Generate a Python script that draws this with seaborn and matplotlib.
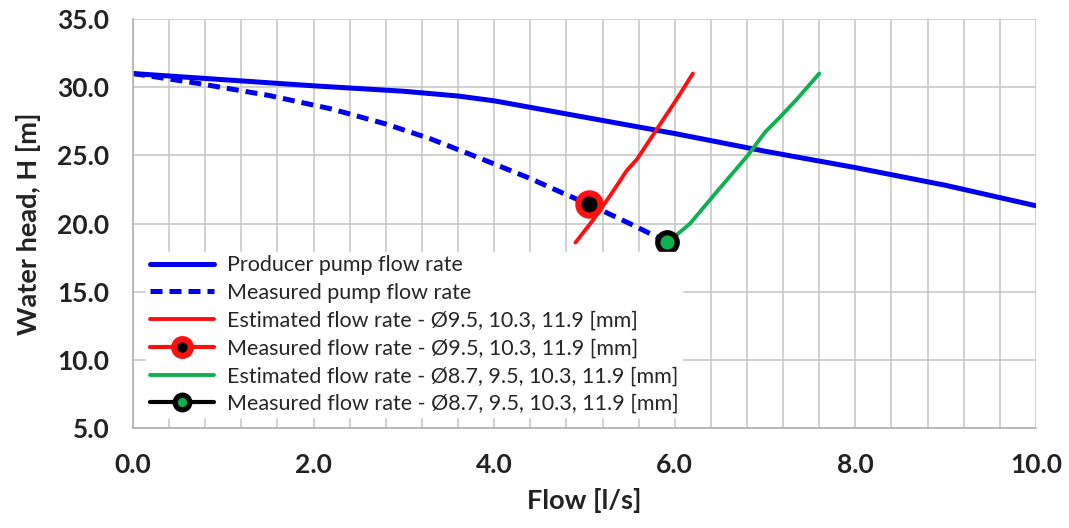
import numpy as np
import pandas as pd
import seaborn as sns
import matplotlib.pyplot as plt
from matplotlib.ticker import MultipleLocator

# Curves
producer_x = [0.0, 1.0, 2.0, 3.0, 3.6, 4.0, 4.5, 5.0, 6.0, 7.0, 8.0, 9.0, 10.0]
producer_h = [31.0, 30.55, 30.1, 29.7, 29.35, 29.0, 28.4, 27.8, 26.6, 25.3, 24.1, 22.8, 21.3]

measured_x = [0.0, 0.7, 1.5, 2.2, 2.8, 3.3, 3.8, 4.4, 4.77, 5.05, 5.5, 5.91]
measured_h = [31.0, 30.3, 29.4, 28.4, 27.3, 26.2, 24.9, 23.3, 22.2, 21.4, 20.0, 18.66]

est_a_x = [4.9, 5.1, 5.3, 5.47, 5.58, 5.8, 6.02, 6.2]
est_a_h = [18.6, 20.3, 22.2, 23.9, 24.7, 26.9, 29.1, 31.0]

est_b_x = [5.92, 6.17, 6.5, 6.81, 7.0, 7.15, 7.35, 7.6]
est_b_h = [18.6, 20.0, 22.6, 25.0, 26.7, 27.7, 29.1, 31.0]

point_a = ([5.05], [21.4])
point_b = ([5.91], [18.66])

labels = [
    "Producer pump flow rate",
    "Measured pump flow rate",
    "Estimated flow rate - Ø9.5, 10.3, 11.9 [mm]",
    "Measured flow rate - Ø9.5, 10.3, 11.9 [mm]",
    "Estimated flow rate - Ø8.7, 9.5, 10.3, 11.9 [mm]",
    "Measured flow rate - Ø8.7, 9.5, 10.3, 11.9 [mm]",
]

sns.set_theme(style="whitegrid", rc={
    "grid.color": "#c8c8c8",
    "grid.linewidth": 1.2,
    "axes.edgecolor": "#b0b0b0",
    "axes.linewidth": 1.2,
})
plt.rcParams["font.family"] = ["Lato", "DejaVu Sans"]

fig = plt.figure(figsize=(10.69, 5.28), dpi=100)
ax = fig.add_axes([0.1244, 0.1894, 0.8447, 0.7746])

sns.lineplot(x=producer_x, y=producer_h, color="#0000ee", lw=3.6, ax=ax, label=labels[0])
sns.lineplot(x=measured_x, y=measured_h, color="#0000ee", lw=3.6, ax=ax, label=labels[1],
             linestyle=(0, (2.4, 1.4)))
sns.lineplot(x=est_a_x, y=est_a_h, color="#ff1010", lw=2.8, ax=ax, label=labels[2])
sns.lineplot(x=point_a[0], y=point_a[1], color="#ff1010", lw=3.0, ax=ax, label=labels[3],
             marker="o", markersize=16, markerfacecolor="black",
             markeredgecolor="#ff1010", markeredgewidth=4.5)
sns.lineplot(x=est_b_x, y=est_b_h, color="#10b050", lw=2.8, ax=ax, label=labels[4])
sns.lineplot(x=point_b[0], y=point_b[1], color="black", lw=3.0, ax=ax, label=labels[5],
             marker="o", markersize=14, markerfacecolor="#10b050",
             markeredgecolor="black", markeredgewidth=3.8)

ax.set_xlim(0, 10)
ax.set_ylim(5, 35)
ax.xaxis.set_major_locator(MultipleLocator(2))
ax.xaxis.set_minor_locator(MultipleLocator(0.4))
ax.yaxis.set_major_locator(MultipleLocator(5))
ax.xaxis.set_major_formatter(lambda v, p: f"{v:.1f}")
ax.yaxis.set_major_formatter(lambda v, p: f"{v:.1f}")
ax.grid(True, which="both", axis="x")
ax.grid(True, which="major", axis="y")
ax.tick_params(axis="both", which="major", direction="out", length=8, width=1.2,
               color="#b0b0b0", labelsize=19)
ax.tick_params(axis="y", which="major", pad=9)
ax.tick_params(axis="x", which="major", pad=10)
ax.tick_params(axis="x", which="minor", length=0)
for t in ax.get_xticklabels() + ax.get_yticklabels():
    t.set_fontweight("bold")
    t.set_color("#222222")

for side in ["top", "right"]:
    ax.spines[side].set_visible(False)

ax.set_xlabel("Flow [l/s]", fontsize=19.5, fontweight="bold", color="#222222", labelpad=8)
ax.set_ylabel("Water head, H [m]", fontsize=19.5, fontweight="bold", color="#222222", labelpad=12)

leg = ax.legend(loc="lower left", bbox_to_anchor=(0.003, 0.0), fontsize=15.5,
                frameon=True, framealpha=1, facecolor="white", edgecolor="white",
                handlelength=3.0, handletextpad=0.6, labelspacing=0.36,
                borderpad=0.15, fancybox=False, markerscale=0.75)

fig.savefig("out.png", dpi=100)
